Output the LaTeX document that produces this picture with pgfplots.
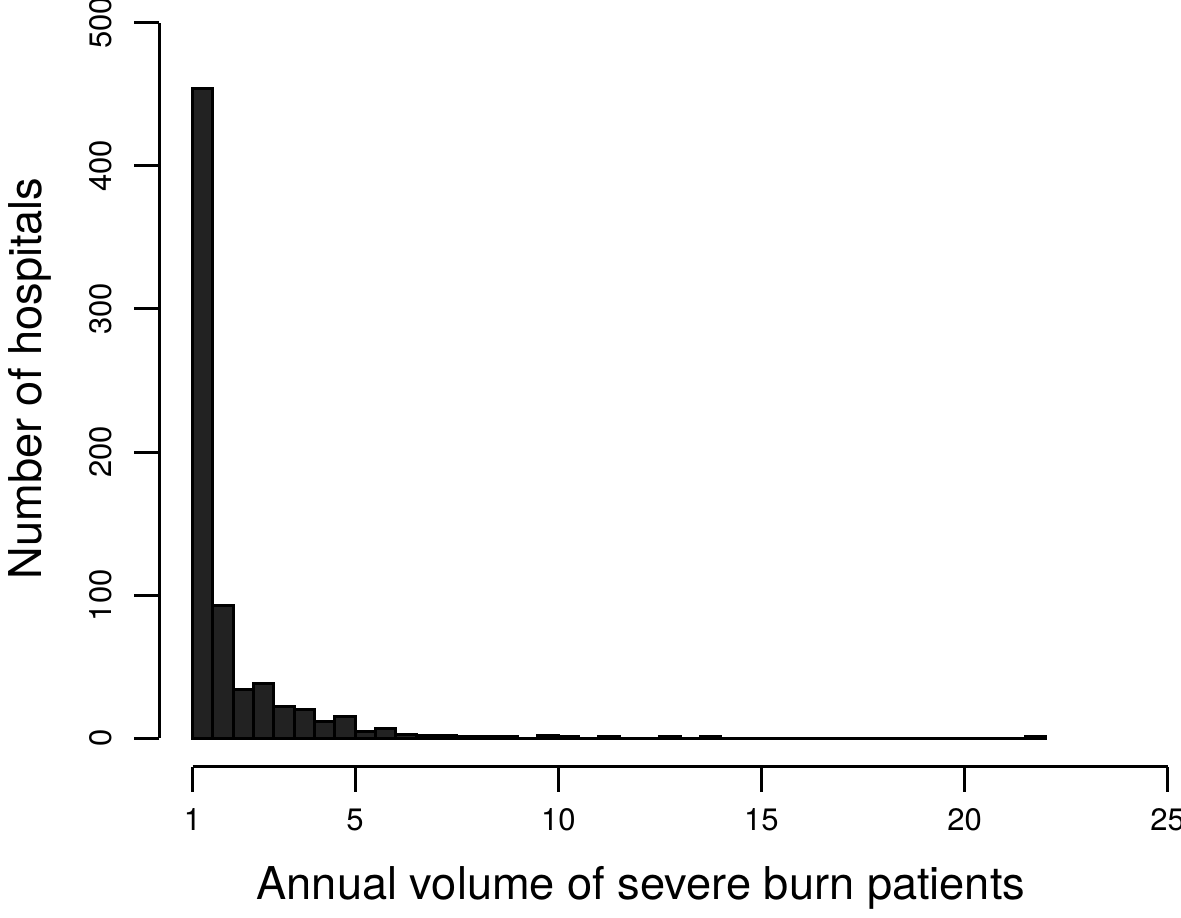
\documentclass[border=0pt]{standalone}
\usepackage{pgfplots}
\pgfplotsset{compat=1.18}
\usepackage{fontspec}
\setmainfont{TeX Gyre Heros}
\definecolor{barfill}{RGB}{34,34,34}

\begin{document}
\begin{tikzpicture}
\begin{axis}[
    scale only axis,
    width=252.1pt, height=186pt,
    xmin=0.180, xmax=25,
    ymin=-19.84, ymax=500,
    clip=false,
    axis x line*=bottom,
    axis y line*=left,
    axis line style={draw=none},
    xtick={1,5,10,15,20,25},
    ytick={0,100,200,300,400,500},
    minor tick num=0,
    tick align=outside,
    major tick length=6.25pt,
    tick style={black, line width=0.75pt},
    /pgf/number format/assume math mode=true,
    ticklabel style={font=\fontsize{7.75}{9}\selectfont, inner sep=0pt},
    xticklabel style={anchor=north},
    yticklabel style={rotate=90, anchor=south},
    xticklabel shift=4.07pt,
    yticklabel shift=5.25pt,
    xlabel={Annual volume of severe burn patients},
    ylabel={Number of hospitals},
    label style={font=\fontsize{11.3}{13}\selectfont, inner sep=0pt},
    xlabel style={at={(axis description cs:0.4777,-0.178)}, anchor=base},
    ylabel style={at={(axis description cs:-0.1163,0.522)}, anchor=base, rotate=0},
]
% histogram, bins of width 0.5 starting at 1
\addplot[ybar interval, fill=barfill, draw=black, line width=0.75pt] table {
x y
1.0 454
1.5 93
2.0 34
2.5 38
3.0 22
3.5 20
4.0 12
4.5 15
5.0 5
5.5 7
6.0 3
6.5 2
7.0 2
7.5 1
8.0 1
8.5 1
9.0 0
9.5 2
10.0 1
10.5 0
11.0 1
11.5 0
12.0 0
12.5 1
13.0 0
13.5 1
14.0 0
14.5 0
15.0 0
15.5 0
16.0 0
16.5 0
17.0 0
17.5 0
18.0 0
18.5 0
19.0 0
19.5 0
20.0 0
20.5 0
21.0 0
21.5 1
22.0 0
};
% R style detached axis lines
\draw[line width=0.75pt] (axis cs:1,-19.84) -- (axis cs:25,-19.84);
\draw[line width=0.75pt] (axis cs:0.180,0) -- (axis cs:0.180,500);
\coordinate (bl) at (axis cs:-3.740,-124.9);
\coordinate (tr) at (axis cs:25.327,515.9);
\end{axis}
\pgfresetboundingbox
\useasboundingbox (bl) rectangle (tr);
\end{tikzpicture}
\end{document}
